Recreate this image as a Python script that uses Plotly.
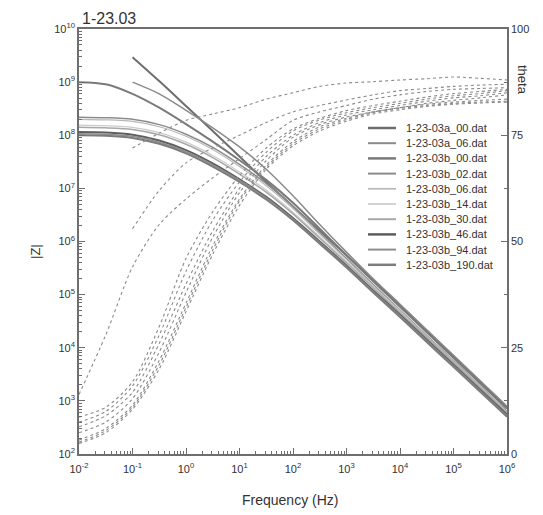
import plotly.graph_objects as go

# Frequency points (Hz)
freq = [0.01, 0.0316, 0.1, 0.316, 1, 3.16, 10, 31.6, 100, 316, 1000, 3160,
        10000, 31600, 100000, 316000, 1000000]

series_names = ["1-23-03a_00.dat", "1-23-03a_06.dat", "1-23-03b_00.dat",
                "1-23-03b_02.dat", "1-23-03b_06.dat", "1-23-03b_14.dat",
                "1-23-03b_30.dat", "1-23-03b_46.dat", "1-23-03b_94.dat",
                "1-23-03b_190.dat"]

# log10 |Z| (ohm)
logZ_a_00 = [None, None, 9.47, 9.02, 8.55, 8.08, 7.60, 7.12, 6.66, 6.20, 5.74, 5.27, 4.80, 4.32, 3.84, 3.36, 2.88]
logZ_a_06 = [None, None, 9.00, 8.78, 8.47, 8.14, 7.78, 7.36, 6.86, 6.32, 5.80, 5.30, 4.82, 4.34, 3.86, 3.38, 2.90]
logZ_b_00 = [9.00, 8.96, 8.78, 8.52, 8.21, 7.88, 7.53, 7.16, 6.73, 6.24, 5.74, 5.25, 4.77, 4.29, 3.81, 3.33, 2.85]
logZ_b_02 = [8.34, 8.33, 8.30, 8.20, 8.02, 7.77, 7.45, 7.09, 6.66, 6.17, 5.68, 5.19, 4.71, 4.23, 3.76, 3.28, 2.80]
logZ_b_06 = [8.30, 8.29, 8.26, 8.16, 7.98, 7.73, 7.41, 7.05, 6.62, 6.14, 5.66, 5.17, 4.70, 4.22, 3.75, 3.27, 2.79]
logZ_b_14 = [8.19, 8.18, 8.15, 8.05, 7.87, 7.62, 7.31, 6.97, 6.55, 6.09, 5.62, 5.15, 4.68, 4.20, 3.73, 3.26, 2.78]
logZ_b_30 = [8.15, 8.14, 8.11, 8.01, 7.83, 7.58, 7.27, 6.93, 6.52, 6.06, 5.60, 5.13, 4.66, 4.19, 3.72, 3.25, 2.77]
logZ_b_46 = [8.06, 8.05, 8.01, 7.90, 7.72, 7.47, 7.17, 6.84, 6.44, 6.00, 5.55, 5.08, 4.62, 4.15, 3.68, 3.21, 2.74]
logZ_b_94 = [8.03, 8.02, 7.98, 7.87, 7.69, 7.44, 7.15, 6.82, 6.42, 5.98, 5.53, 5.06, 4.60, 4.13, 3.66, 3.19, 2.72]
logZ_b_190 = [8.00, 7.99, 7.95, 7.84, 7.66, 7.41, 7.12, 6.79, 6.40, 5.96, 5.51, 5.04, 4.58, 4.11, 3.64, 3.17, 2.70]

# phase angle theta (degrees)
theta_a_00 = [None, None, 72, 75.5, 78.5, 80, 81.5, 83.5, 85, 86.5, 87.3, 87.6, 88, 88.3, 88.7, 88.4, 88]
theta_a_06 = [None, None, 53, 62, 68.5, 72, 75, 78, 80.5, 82, 83.3, 84.5, 85.5, 86, 86.5, 86.8, 87]
theta_b_00 = [14, 28, 44, 54, 60, 65, 69.5, 74, 78.5, 80.5, 82, 83.5, 84.5, 85.3, 85.8, 86, 86.2]
theta_b_02 = [8.7, 11, 17, 30, 46, 57, 65.5, 72, 76.5, 79, 80.8, 82, 83, 84, 84.8, 85.3, 85.8]
theta_b_06 = [7.5, 10, 16, 28, 43, 55, 64, 71, 76, 78.6, 80.3, 81.5, 82.5, 83.5, 84.3, 84.8, 85.5]
theta_b_14 = [6.4, 9, 14.5, 26, 40, 52.5, 62.5, 70, 75, 78, 79.8, 81, 82, 83, 83.8, 84.3, 85]
theta_b_30 = [5, 7.5, 13, 24, 38, 51, 61.5, 69, 74.5, 77.5, 79.3, 80.5, 81.5, 82.5, 83.2, 83.8, 84.5]
theta_b_46 = [3.3, 6, 11.5, 22, 35.5, 49, 60, 68, 73.5, 77, 79, 80.5, 81.5, 82.3, 82.8, 83.2, 83.5]
theta_b_94 = [2.8, 5.5, 11, 21, 34.5, 48, 59.5, 67.5, 73, 76.5, 78.7, 80.3, 81.3, 82, 82.5, 82.8, 83]
theta_b_190 = [2.5, 5, 10.5, 20, 33.5, 47, 58.5, 67, 72.5, 76, 78.3, 80, 81, 81.8, 82.3, 82.6, 82.8]

# axis tick labels
x_tickvals = [0.01, 0.1, 1, 10, 100, 1000, 10000, 100000, 1000000]
x_ticktext = ["10<sup>-2</sup>", "10<sup>-1</sup>", "10<sup>0</sup>", "10<sup>1</sup>",
              "10<sup>2</sup>", "10<sup>3</sup>", "10<sup>4</sup>", "10<sup>5</sup>",
              "10<sup>6</sup>"]
y_tickvals = [1e2, 1e3, 1e4, 1e5, 1e6, 1e7, 1e8, 1e9, 1e10]
y_ticktext = ["10<sup>2</sup>", "10<sup>3</sup>", "10<sup>4</sup>", "10<sup>5</sup>",
              "10<sup>6</sup>", "10<sup>7</sup>", "10<sup>8</sup>", "10<sup>9</sup>",
              "10<sup>10</sup>"]
theta_tickvals = [0, 25, 50, 75, 100]

logZ_all = [logZ_a_00, logZ_a_06, logZ_b_00, logZ_b_02, logZ_b_06, logZ_b_14,
            logZ_b_30, logZ_b_46, logZ_b_94, logZ_b_190]
theta_all = [theta_a_00, theta_a_06, theta_b_00, theta_b_02, theta_b_06, theta_b_14,
             theta_b_30, theta_b_46, theta_b_94, theta_b_190]

line_colors = ["#6e6e6e", "#8a8a8a", "#7a7a7a", "#8c8c8c", "#b8b8b8",
               "#cccccc", "#a8a8a8", "#5e5e5e", "#8e8e8e", "#7c7c7c"]
line_widths = [2, 1.5, 2, 1.5, 1.2, 1.2, 1.5, 2, 1.5, 2]

FONT = "Liberation Sans, Arial, sans-serif"
TXT = "#333333"
fig = go.Figure()

for name, lz, col, w in zip(series_names, logZ_all, line_colors, line_widths):
    xs = [f for f, v in zip(freq, lz) if v is not None]
    ys = [10 ** v for v in lz if v is not None]
    fig.add_trace(go.Scatter(x=xs, y=ys, mode="lines", name=name, showlegend=False,
                             line=dict(color=col, width=w, shape="spline", smoothing=0.8),
                             yaxis="y"))

for name, th in zip(series_names, theta_all):
    xs = [f for f, v in zip(freq, th) if v is not None]
    ys = [v for v in th if v is not None]
    fig.add_trace(go.Scatter(x=xs, y=ys, mode="lines", name=name + " theta",
                             showlegend=False,
                             line=dict(color="#8a8a8a", width=1.1, dash="dot",
                                       shape="spline", smoothing=0.8),
                             yaxis="y2"))

axis_common = dict(showgrid=False, zeroline=False, showline=True, linecolor="#6e6e6e",
                   linewidth=1.6, tickcolor="#6e6e6e", automargin=False,
                   tickfont=dict(family=FONT, size=11, color=TXT))

# Plot area in page pixels: x 79..507, y 29..454 (page has an 8px body margin)
PX0, PX1, PY0, PY1 = 79, 507, 29, 454


def px_to_paper_x(px):
    return (px - PX0) / (PX1 - PX0)


def px_to_paper_y(py):
    return (PY1 - py) / (PY1 - PY0)


# compact legend drawn like the reference
shapes = []
annotations = []
for i, (name, col, w) in enumerate(zip(series_names, line_colors, line_widths)):
    ry = px_to_paper_y(128 + 15.2 * i)
    shapes.append(dict(type="line", xref="paper", yref="paper",
                       x0=px_to_paper_x(368), x1=px_to_paper_x(396), y0=ry, y1=ry,
                       line=dict(color=col, width=w + 0.5)))
    annotations.append(dict(text=name, xref="paper", yref="paper",
                            x=px_to_paper_x(404), y=ry, xanchor="left", yanchor="middle",
                            showarrow=False, font=dict(family=FONT, size=11, color=TXT)))

annotations.append(dict(text="1-23.03", xref="paper", yref="paper",
                        x=px_to_paper_x(80), y=px_to_paper_y(18),
                        xanchor="left", yanchor="middle", showarrow=False,
                        font=dict(family=FONT, size=16, color=TXT)))
annotations.append(dict(text="theta", xref="paper", yref="paper",
                        x=px_to_paper_x(523), y=px_to_paper_y(80),
                        xanchor="center", yanchor="middle", showarrow=False, textangle=90,
                        font=dict(family=FONT, size=13, color=TXT)))
annotations.append(dict(text="|Z|", xref="paper", yref="paper",
                        x=px_to_paper_x(36), y=px_to_paper_y(252),
                        xanchor="center", yanchor="middle", showarrow=False, textangle=-90,
                        font=dict(family=FONT, size=13, color=TXT)))
annotations.append(dict(text="Frequency (Hz)", xref="paper", yref="paper",
                        x=px_to_paper_x(290), y=px_to_paper_y(500),
                        xanchor="center", yanchor="middle", showarrow=False,
                        font=dict(family=FONT, size=14, color=TXT)))

fig.update_layout(
    width=535, height=507,
    margin=dict(l=PX0 - 8, r=543 - PX1, t=PY0 - 8, b=515 - PY1, autoexpand=False),
    paper_bgcolor="white", plot_bgcolor="white",
    font=dict(family=FONT, color=TXT),
    showlegend=False,
    xaxis=dict(type="log", range=[-2, 6], tickvals=x_tickvals, ticktext=x_ticktext,
               ticks="inside", ticklen=6, mirror=True, ticklabelstandoff=4,
               minor=dict(ticks="inside", ticklen=3, tickcolor="#6e6e6e", dtick="D1"),
               **axis_common),
    yaxis=dict(type="log", range=[2, 10], tickvals=y_tickvals, ticktext=y_ticktext,
               ticks="inside", ticklen=6,
               minor=dict(ticks="inside", ticklen=3, tickcolor="#6e6e6e", dtick="D1"),
               **axis_common),
    yaxis2=dict(overlaying="y", side="right", range=[0, 100], tickvals=theta_tickvals,
                ticks="inside", ticklen=6,
                minor=dict(ticks="inside", ticklen=3, tickcolor="#6e6e6e", dtick=12.5),
                **axis_common),
    shapes=shapes,
    annotations=annotations,
)

fig.write_html("out.html")
